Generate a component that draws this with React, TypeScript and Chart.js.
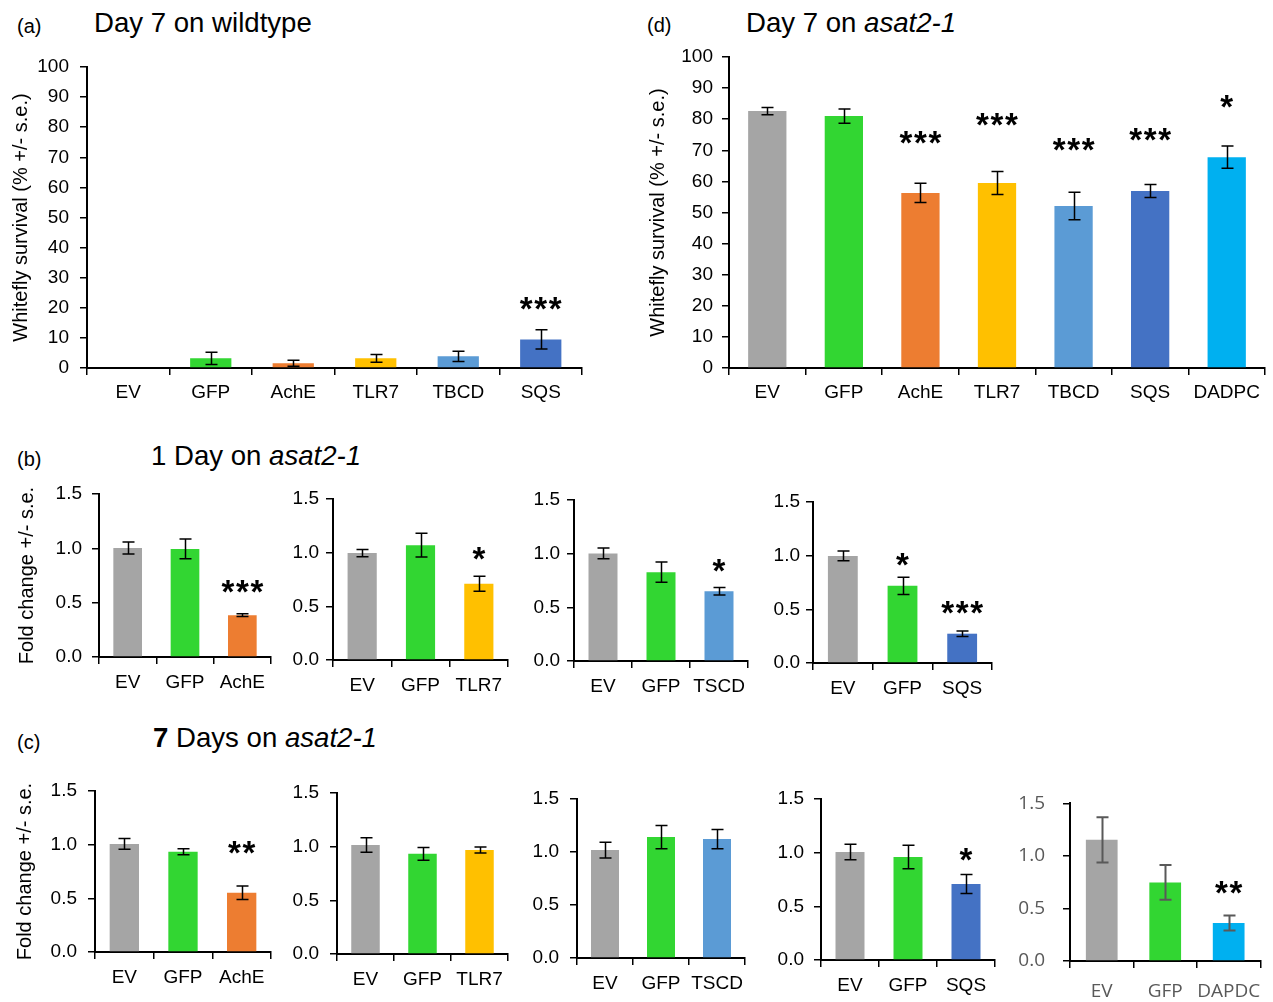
import React, { useEffect, useRef } from 'react';
import { Chart, registerables } from 'chart.js';

Chart.register(...registerables);

const GRAY = '#A5A5A5';
const GREEN = '#32D632';
const ORANGE = '#ED7D31';
const YELLOW = '#FFC000';
const LBLUE = '#5B9BD5';
const DBLUE = '#4472C4';
const CYAN = '#00B0F0';

const survivalTicks = [0, 10, 20, 30, 40, 50, 60, 70, 80, 90, 100];
const foldTicks = [0, 0.5, 1.0, 1.5];

// (a) Day 7 on wildtype
const aCategories = ['EV', 'GFP', 'AchE', 'TLR7', 'TBCD', 'SQS'];
const aValues = [0, 3.2, 1.6, 3.2, 3.9, 9.5];
const aErrors = [null, 2.0, 1.0, 1.3, 1.7, 3.2];
const aStars = ['', '', '', '', '', '***'];
const aStarLevels = [null, null, null, null, null, 22];
const aColors = [GRAY, GREEN, ORANGE, YELLOW, LBLUE, DBLUE];

// (d) Day 7 on asat2-1
const dCategories = ['EV', 'GFP', 'AchE', 'TLR7', 'TBCD', 'SQS', 'DADPC'];
const dValues = [82.6, 81.0, 56.3, 59.5, 52.1, 56.9, 67.8];
const dErrors = [1.2, 2.3, 3.1, 3.7, 4.4, 2.1, 3.6];
const dStars = ['', '', '***', '***', '***', '***', '*'];
const dStarLevels = [null, null, 74.9, 80.5, 72.4, 75.6, 86.4];
const dColors = [GRAY, GREEN, ORANGE, YELLOW, LBLUE, DBLUE, CYAN];

// (b) 1 Day on asat2-1
const b1Categories = ['EV', 'GFP', 'AchE'];
const b1Values = [1.004, 0.995, 0.385];
const b1Errors = [0.055, 0.09, 0.012];
const b1Stars = ['', '', '***'];
const b1StarLevels = [null, null, 0.67];

const b2Categories = ['EV', 'GFP', 'TLR7'];
const b2Values = [0.996, 1.07, 0.71];
const b2Errors = [0.033, 0.11, 0.07];
const b2Stars = ['', '', '*'];
const b2StarLevels = [null, null, 1.01];

const b3Categories = ['EV', 'GFP', 'TSCD'];
const b3Values = [1.002, 0.828, 0.65];
const b3Errors = [0.05, 0.095, 0.035];
const b3Stars = ['', '', '*'];
const b3StarLevels = [null, null, 0.91];

const b4Categories = ['EV', 'GFP', 'SQS'];
const b4Values = [0.998, 0.719, 0.273];
const b4Errors = [0.045, 0.08, 0.026];
const b4Stars = ['', '*', '***'];
const b4StarLevels = [null, 0.985, 0.54];

// (c) 7 Days on asat2-1
const c1Categories = ['EV', 'GFP', 'AchE'];
const c1Values = [1.007, 0.933, 0.552];
const c1Errors = [0.05, 0.028, 0.062];
const c1Stars = ['', '', '**'];
const c1StarLevels = [null, null, 0.99];

const c2Categories = ['EV', 'GFP', 'TLR7'];
const c2Values = [1.016, 0.933, 0.97];
const c2Errors = [0.068, 0.06, 0.028];
const c2Stars = ['', '', ''];
const c2StarLevels = [null, null, null];

const c3Categories = ['EV', 'GFP', 'TSCD'];
const c3Values = [1.018, 1.141, 1.122];
const c3Errors = [0.074, 0.11, 0.091];
const c3Stars = ['', '', ''];
const c3StarLevels = [null, null, null];

const c4Categories = ['EV', 'GFP', 'SQS'];
const c4Values = [1.006, 0.96, 0.708];
const c4Errors = [0.073, 0.109, 0.088];
const c4Stars = ['', '', '*'];
const c4StarLevels = [null, null, 1.0];

const c5Categories = ['EV', 'GFP', 'DAPDC'];
const c5Values = [1.153, 0.748, 0.362];
const c5Errors = [0.216, 0.166, 0.071];
const c5Stars = ['', '', '**'];
const c5StarLevels = [null, null, 0.72];

const FONT = '"Liberation Sans", Arial, Helvetica, sans-serif';

const errorBarPlugin = {
  id: 'errorBars',
  afterDatasetsDraw(chart: any, _args: any, opts: any) {
    const { ctx } = chart;
    const y = chart.scales.y;
    const meta = chart.getDatasetMeta(0);
    const values = chart.data.datasets[0].data as number[];
    const errs = opts.errors || [];
    const cap = opts.cap ?? 6;
    ctx.save();
    ctx.strokeStyle = opts.color || '#000';
    ctx.lineWidth = opts.width || 1.5;
    meta.data.forEach((bar: any, i: number) => {
      const e = errs[i];
      if (e == null) return;
      const xc = Math.round(bar.x) + 0.5;
      const yTop = y.getPixelForValue(values[i] + e);
      const yBot = y.getPixelForValue(values[i] - e);
      ctx.beginPath();
      ctx.moveTo(xc, yTop);
      ctx.lineTo(xc, yBot);
      ctx.moveTo(xc - cap, yTop);
      ctx.lineTo(xc + cap, yTop);
      ctx.moveTo(xc - cap, yBot);
      ctx.lineTo(xc + cap, yBot);
      ctx.stroke();
    });
    const stars: string[] = opts.stars || [];
    const levels: (number | null)[] = opts.starLevels || [];
    const size = opts.starSize || 33;
    ctx.fillStyle = '#000';
    ctx.font = `bold ${size}px ${FONT}`;
    ctx.textAlign = 'center';
    ctx.textBaseline = 'alphabetic';
    stars.forEach((s, i) => {
      const lvl = levels[i];
      if (!s || lvl == null) return;
      const xc = meta.data[i].x;
      const yc = y.getPixelForValue(lvl);
      const n = s.length;
      const spacing = opts.starSpacing || 14.5;
      for (let k = 0; k < n; k++) {
        ctx.fillText('*', xc + (k - (n - 1) / 2) * spacing, yc + 0.56 * size);
      }
    });
    ctx.restore();
  },
};

type Area = { left: number; top: number; right: number; bottom: number };

type PanelProps = {
  categories: string[];
  values: number[];
  errors: (number | null)[];
  stars: string[];
  starLevels: (number | null)[];
  colors: string[];
  ticks: number[];
  decimals: number;
  area: Area;
  canvasLeft: number;
  yTitle?: string;
  yTitlePad?: number;
  yLabelPad: number;
  xLabelPad: number;
  labelColor?: string;
  labelFamily?: string;
  errColor?: string;
  errWidth?: number;
  rightSpace?: number;
};

const TOP_SPACE = 24;
const BOTTOM_SPACE = 42;

function Panel(p: PanelProps) {
  const ref = useRef<HTMLCanvasElement>(null);
  const rightSpace = p.rightSpace ?? 12;
  const canvasTop = p.area.top - TOP_SPACE;
  const width = p.area.right + rightSpace - p.canvasLeft;
  const height = p.area.bottom + BOTTOM_SPACE - canvasTop;

  useEffect(() => {
    if (!ref.current) return;
    const labelColor = p.labelColor || '#000';
    const family = p.labelFamily || FONT;
    const yWidth = p.area.left - p.canvasLeft;
    const chart = new Chart(ref.current, {
      type: 'bar',
      data: {
        labels: p.categories,
        datasets: [
          {
            data: p.values,
            backgroundColor: p.colors,
            borderWidth: 0,
            barPercentage: 0.5,
            categoryPercentage: 1.0,
          },
        ],
      },
      options: {
        animation: false,
        responsive: false,
        devicePixelRatio: 1,
        layout: { padding: { left: 0, top: TOP_SPACE, right: rightSpace, bottom: 0 } },
        plugins: {
          legend: { display: false },
          tooltip: { enabled: false },
          title: { display: false },
          errorBars: {
            errors: p.errors,
            stars: p.stars,
            starLevels: p.starLevels,
            color: p.errColor || '#000',
            width: p.errWidth || 1.5,
            cap: 6,
          },
        } as any,
        scales: {
          x: {
            type: 'category',
            offset: true,
            grid: {
              offset: true,
              drawOnChartArea: false,
              drawTicks: true,
              tickLength: 7,
              color: '#000',
              lineWidth: 1.5,
            },
            border: { display: true, color: '#000', width: 2 },
            ticks: {
              autoSkip: false,
              maxRotation: 0,
              minRotation: 0,
              padding: p.xLabelPad,
              color: labelColor,
              font: { family, size: 19 },
            },
            afterFit: (scale: any) => {
              scale.height = BOTTOM_SPACE;
            },
          },
          y: {
            type: 'linear',
            min: p.ticks[0],
            max: p.ticks[p.ticks.length - 1],
            afterBuildTicks: (scale: any) => {
              scale.ticks = p.ticks.map((v) => ({ value: v }));
            },
            grid: {
              drawOnChartArea: false,
              drawTicks: true,
              tickLength: 7,
              color: '#000',
              lineWidth: 1.5,
            },
            border: { display: true, color: '#000', width: 2 },
            ticks: {
              padding: p.yLabelPad,
              color: labelColor,
              font: { family, size: 19 },
              callback: (v: any) => Number(v).toFixed(p.decimals),
            },
            title: p.yTitle
              ? {
                  display: true,
                  text: p.yTitle,
                  color: '#000',
                  font: { family: FONT, size: 20 },
                  padding: { top: p.yTitlePad ?? 0, bottom: 0 },
                }
              : { display: false },
            afterFit: (scale: any) => {
              scale.width = yWidth;
            },
          },
        },
      },
      plugins: [errorBarPlugin],
    } as any);
    return () => chart.destroy();
  }, []);

  return (
    <canvas
      ref={ref}
      width={width}
      height={height}
      style={{ position: 'absolute', left: p.canvasLeft, top: canvasTop, width, height }}
    />
  );
}

function Label(props: { x: number; baseline: number; size: number; children: any; bold?: boolean }) {
  return (
    <div
      style={{
        position: 'absolute',
        left: props.x,
        top: props.baseline - 0.8465 * props.size,
        fontSize: props.size,
        lineHeight: 1,
        fontFamily: FONT,
        fontWeight: props.bold ? 'bold' : 'normal',
        whiteSpace: 'nowrap',
        color: '#000',
      }}
    >
      {props.children}
    </div>
  );
}

export default function App() {
  return (
    <div
      style={{
        position: 'absolute',
        left: 0,
        top: 0,
        width: 1273,
        height: 1002,
        overflow: 'hidden',
        background: '#fff',
        fontFamily: FONT,
      }}
    >
      <Label x={17} baseline={32.7} size={20}>(a)</Label>
      <Label x={94} baseline={32.3} size={27.6}>Day 7 on wildtype</Label>
      <Label x={647} baseline={32.3} size={20}>(d)</Label>
      <Label x={746} baseline={32.3} size={27.6}>
        Day 7 on <i>asat2-1</i>
      </Label>
      <Label x={17} baseline={466} size={20}>(b)</Label>
      <Label x={151} baseline={465} size={27.6}>
        1 Day on <i>asat2-1</i>
      </Label>
      <Label x={17} baseline={749} size={20}>(c)</Label>
      <Label x={153} baseline={747} size={27.6}>
        <b>7</b> Days on <i>asat2-1</i>
      </Label>

      <Panel
        categories={aCategories}
        values={aValues}
        errors={aErrors}
        stars={aStars}
        starLevels={aStarLevels}
        colors={aColors}
        ticks={survivalTicks}
        decimals={0}
        area={{ left: 87, top: 67, right: 582, bottom: 368 }}
        canvasLeft={0}
        yTitle="Whitefly survival (% +/- s.e.)"
        yTitlePad={9}
        yLabelPad={11}
        xLabelPad={6}
      />
      <Panel
        categories={dCategories}
        values={dValues}
        errors={dErrors}
        stars={dStars}
        starLevels={dStarLevels}
        colors={dColors}
        ticks={survivalTicks}
        decimals={0}
        area={{ left: 729, top: 57, right: 1265, bottom: 368 }}
        canvasLeft={640}
        yTitle="Whitefly survival (% +/- s.e.)"
        yTitlePad={6}
        yLabelPad={9}
        xLabelPad={6}
        rightSpace={6}
      />

      <Panel
        categories={b1Categories}
        values={b1Values}
        errors={b1Errors}
        stars={b1Stars}
        starLevels={b1StarLevels}
        colors={[GRAY, GREEN, ORANGE]}
        ticks={foldTicks}
        decimals={1}
        area={{ left: 99, top: 494, right: 271, bottom: 657 }}
        canvasLeft={0}
        yTitle="Fold change +/- s.e."
        yTitlePad={15}
        yLabelPad={10}
        xLabelPad={7}
      />
      <Panel
        categories={b2Categories}
        values={b2Values}
        errors={b2Errors}
        stars={b2Stars}
        starLevels={b2StarLevels}
        colors={[GRAY, GREEN, YELLOW]}
        ticks={foldTicks}
        decimals={1}
        area={{ left: 333, top: 499, right: 508, bottom: 660 }}
        canvasLeft={270}
        yLabelPad={7}
        xLabelPad={7}
      />
      <Panel
        categories={b3Categories}
        values={b3Values}
        errors={b3Errors}
        stars={b3Stars}
        starLevels={b3StarLevels}
        colors={[GRAY, GREEN, LBLUE]}
        ticks={foldTicks}
        decimals={1}
        area={{ left: 574, top: 500, right: 748, bottom: 661 }}
        canvasLeft={510}
        yLabelPad={7}
        xLabelPad={7}
      />
      <Panel
        categories={b4Categories}
        values={b4Values}
        errors={b4Errors}
        stars={b4Stars}
        starLevels={b4StarLevels}
        colors={[GRAY, GREEN, DBLUE]}
        ticks={foldTicks}
        decimals={1}
        area={{ left: 813, top: 502, right: 992, bottom: 663 }}
        canvasLeft={750}
        yLabelPad={6}
        xLabelPad={7}
      />

      <Panel
        categories={c1Categories}
        values={c1Values}
        errors={c1Errors}
        stars={c1Stars}
        starLevels={c1StarLevels}
        colors={[GRAY, GREEN, ORANGE]}
        ticks={foldTicks}
        decimals={1}
        area={{ left: 95, top: 791, right: 271, bottom: 952 }}
        canvasLeft={0}
        yTitle="Fold change +/- s.e."
        yTitlePad={13}
        yLabelPad={11}
        xLabelPad={7}
      />
      <Panel
        categories={c2Categories}
        values={c2Values}
        errors={c2Errors}
        stars={c2Stars}
        starLevels={c2StarLevels}
        colors={[GRAY, GREEN, YELLOW]}
        ticks={foldTicks}
        decimals={1}
        area={{ left: 337, top: 793, right: 508, bottom: 954 }}
        canvasLeft={270}
        yLabelPad={11}
        xLabelPad={7}
      />
      <Panel
        categories={c3Categories}
        values={c3Values}
        errors={c3Errors}
        stars={c3Stars}
        starLevels={c3StarLevels}
        colors={[GRAY, GREEN, LBLUE]}
        ticks={foldTicks}
        decimals={1}
        area={{ left: 577, top: 799, right: 745, bottom: 958 }}
        canvasLeft={510}
        yLabelPad={11}
        xLabelPad={7}
      />
      <Panel
        categories={c4Categories}
        values={c4Values}
        errors={c4Errors}
        stars={c4Stars}
        starLevels={c4StarLevels}
        colors={[GRAY, GREEN, DBLUE]}
        ticks={foldTicks}
        decimals={1}
        area={{ left: 821, top: 799, right: 995, bottom: 960 }}
        canvasLeft={750}
        yLabelPad={10}
        xLabelPad={7}
      />
      <Panel
        categories={c5Categories}
        values={c5Values}
        errors={c5Errors}
        stars={c5Stars}
        starLevels={c5StarLevels}
        colors={[GRAY, GREEN, CYAN]}
        ticks={foldTicks}
        decimals={1}
        area={{ left: 1070, top: 798, right: 1268, bottom: 961 }}
        canvasLeft={1000}
        yLabelPad={18}
        xLabelPad={12}
        labelColor="#595959"
        labelFamily='"Open Sans", "Liberation Sans", Arial, sans-serif'
        errColor="#595959"
        errWidth={2}
        rightSpace={5}
      />
    </div>
  );
}
